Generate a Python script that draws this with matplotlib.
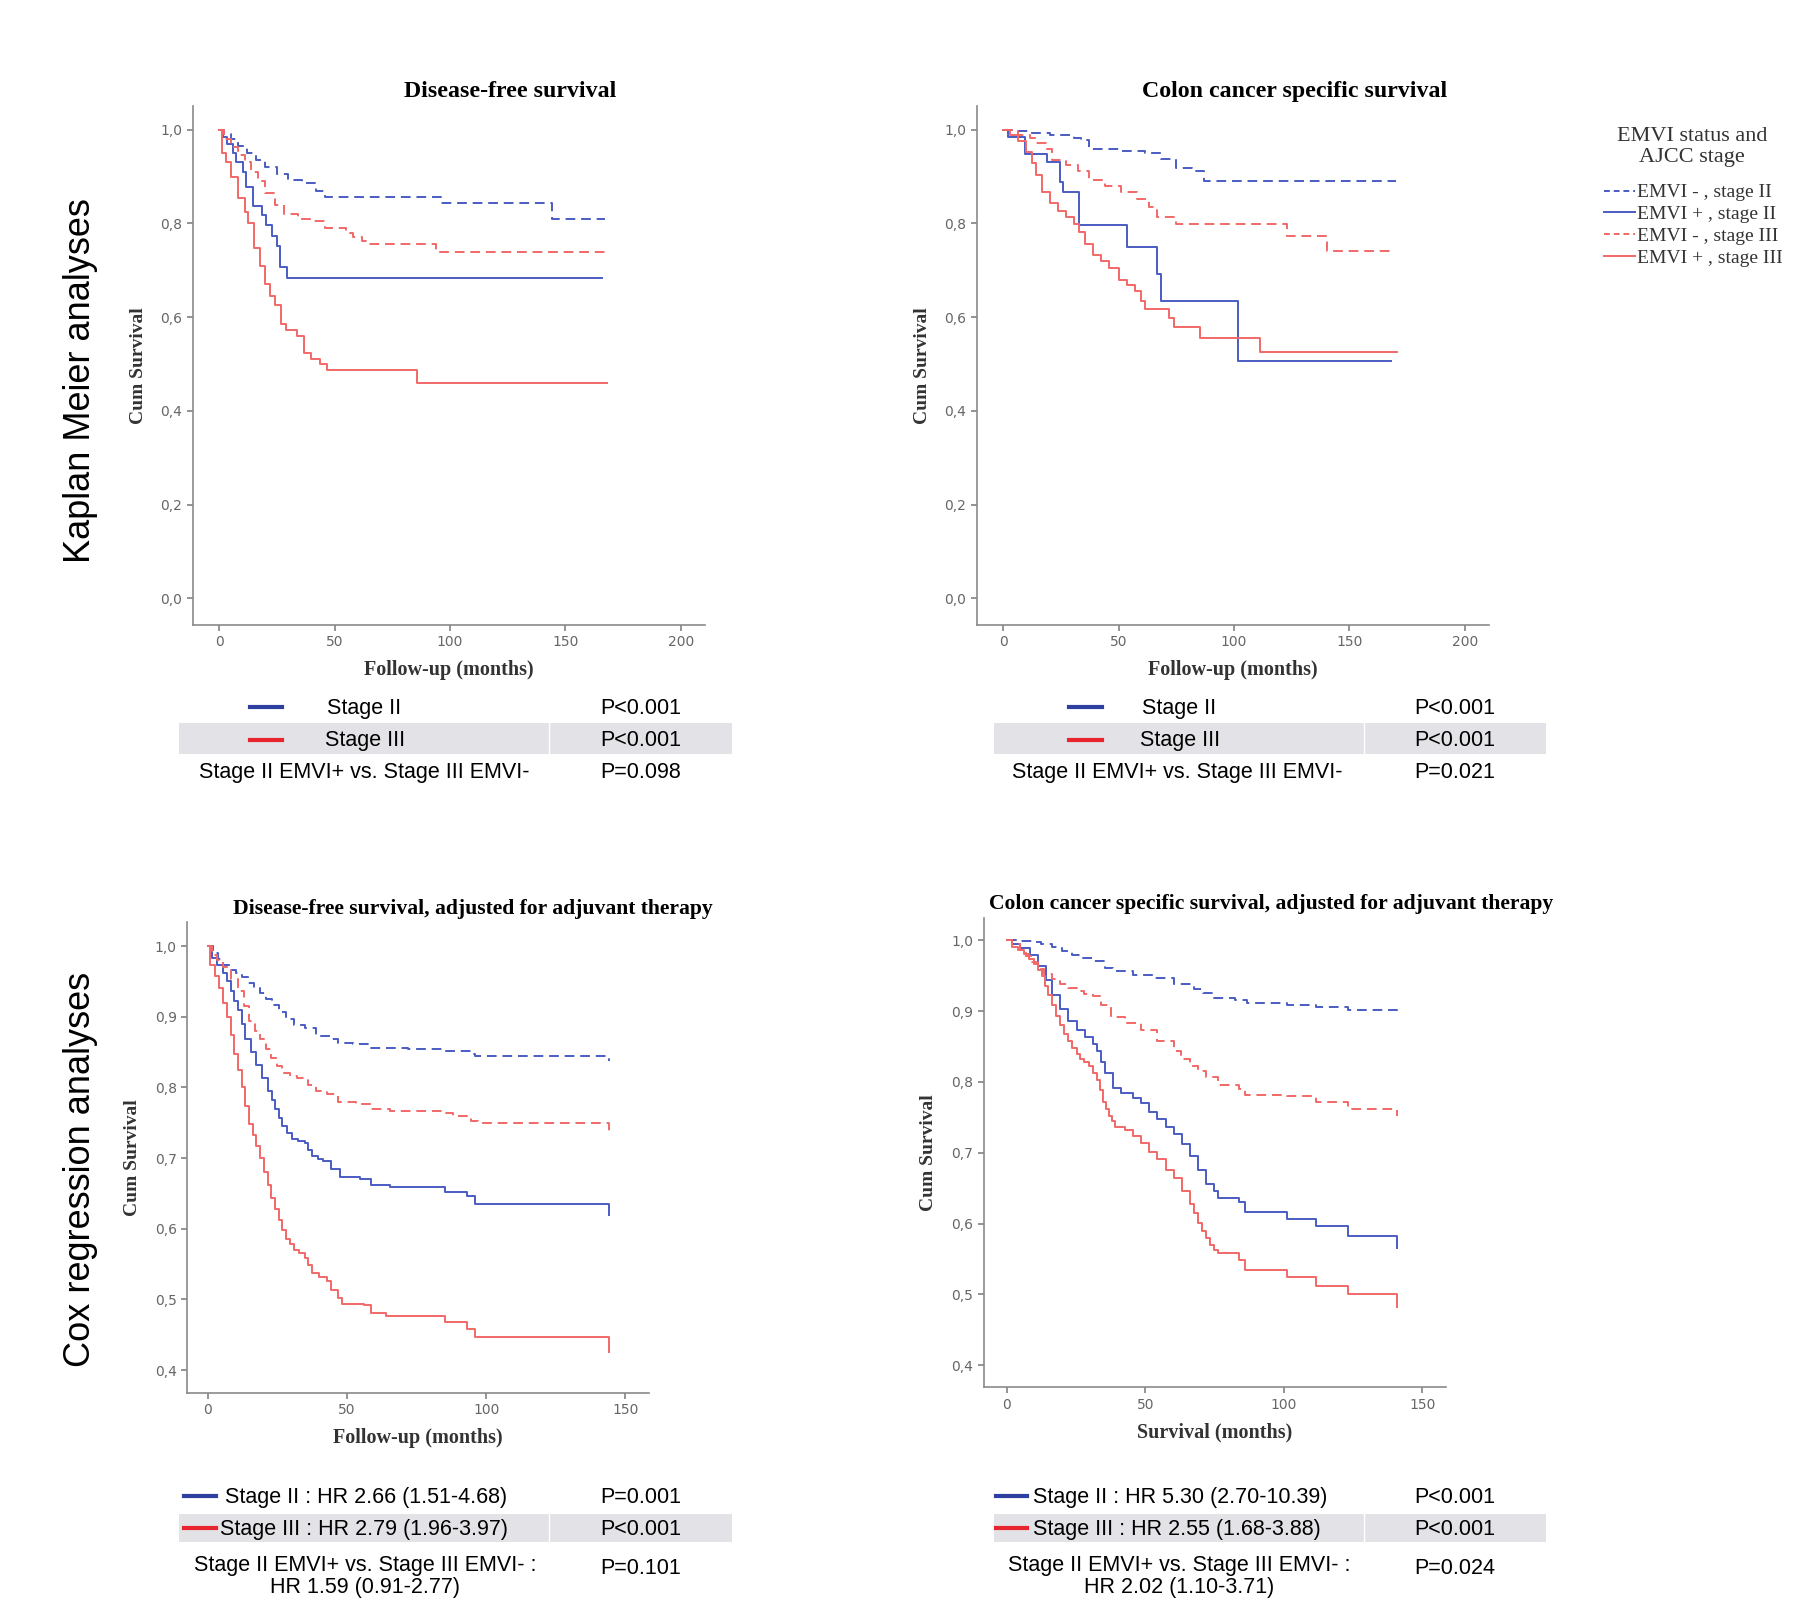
import matplotlib
matplotlib.use("Agg")
import matplotlib.pyplot as plt
from matplotlib.lines import Line2D
from matplotlib.patches import Rectangle

# ---- Kaplan Meier, disease-free survival ----
km_dfs_neg2_t = [0, 2, 5, 8, 12, 16, 20, 25, 30, 36, 42, 46, 96, 144, 167]
km_dfs_neg2_s = [1.0, 0.99, 0.98, 0.965, 0.95, 0.935, 0.92, 0.905, 0.893, 0.885, 0.87, 0.857, 0.844, 0.809, 0.809]
km_dfs_pos2_t = [0, 1.7, 3.5, 6.2, 7.4, 10.5, 11.7, 14.8, 18.5, 20.5, 22.9, 25.2, 26.4, 29.3, 166]
km_dfs_pos2_s = [1.0, 0.985, 0.969, 0.951, 0.931, 0.910, 0.878, 0.836, 0.817, 0.796, 0.774, 0.751, 0.707, 0.684, 0.684]
km_dfs_neg3_t = [0, 2, 5, 8, 11, 14, 17, 20, 24, 28, 34, 40, 46, 55, 58, 62, 65, 94, 168]
km_dfs_neg3_s = [1.0, 0.98, 0.962, 0.945, 0.93, 0.91, 0.89, 0.865, 0.84, 0.82, 0.81, 0.805, 0.79, 0.78, 0.77, 0.762, 0.756, 0.739, 0.739]
km_dfs_pos3_t = [0, 1.2, 2.8, 5.1, 8.2, 11.3, 12.5, 15.1, 17.5, 19.8, 22, 24.4, 26.7, 29, 33.7, 36.8, 39.8, 43.7, 46.8, 85.6, 168]
km_dfs_pos3_s = [1.0, 0.951, 0.931, 0.898, 0.853, 0.825, 0.80, 0.748, 0.71, 0.67, 0.645, 0.625, 0.585, 0.572, 0.56, 0.524, 0.511, 0.50, 0.487, 0.46, 0.46]

# ---- Kaplan Meier, colon cancer specific survival ----
km_css_neg2_t = [0, 4.8, 10.8, 20.2, 30.5, 33.9, 37.3, 51, 61.3, 68.2, 75, 81.8, 87, 170]
km_css_neg2_s = [1.0, 0.998, 0.993, 0.989, 0.981, 0.977, 0.959, 0.954, 0.949, 0.938, 0.919, 0.912, 0.891, 0.891]
km_css_pos2_t = [0, 2, 9.6, 18.8, 24.5, 25.7, 33, 53.8, 66.8, 68.2, 101.5, 168]
km_css_pos2_s = [1.0, 0.985, 0.948, 0.930, 0.888, 0.867, 0.796, 0.749, 0.692, 0.635, 0.507, 0.507]
km_css_neg3_t = [0, 6.5, 11.6, 14.2, 18.5, 21, 27, 32.2, 37.3, 44, 51, 57.9, 63, 66.4, 75, 123, 140.4, 169]
km_css_neg3_s = [1.0, 0.989, 0.981, 0.971, 0.959, 0.936, 0.924, 0.912, 0.892, 0.879, 0.867, 0.851, 0.835, 0.814, 0.798, 0.774, 0.741, 0.741]
km_css_pos3_t = [0, 3.1, 6.5, 9.9, 12.5, 14.2, 16.8, 20.2, 23.6, 27, 30.5, 33, 35.6, 39, 42.5, 45.9, 50.2,
                 53.6, 57, 59.6, 61.3, 71.6, 74.1, 85.3, 111.3, 170.5]
km_css_pos3_s = [1.0, 0.989, 0.976, 0.953, 0.928, 0.904, 0.867, 0.843, 0.827, 0.814, 0.798, 0.782, 0.756, 0.733,
                 0.719, 0.704, 0.68, 0.668, 0.656, 0.635, 0.617, 0.599, 0.578, 0.555, 0.525, 0.525]

# ---- Cox regression, disease-free survival ----
cox_dfs_neg2_t = [0, 2, 3.8, 5.6, 8, 10, 12.2, 14.5, 16.7, 18.8, 21, 23.2, 25.5, 28, 30.8, 34.8, 38.8,
                  44.1, 46.7, 52, 58.7, 71.9, 85.2, 94.5, 95.8, 144]
cox_dfs_neg2_s = [1.0, 0.99, 0.982, 0.973, 0.966, 0.962, 0.956, 0.948, 0.941, 0.934, 0.925, 0.916, 0.907,
                  0.897, 0.889, 0.884, 0.873, 0.868, 0.863, 0.861, 0.856, 0.855, 0.852, 0.847, 0.844, 0.837]
cox_dfs_pos2_t = [0, 1.6, 3.5, 5.6, 7, 8.2, 9.5, 10.9, 12.2, 13.5, 15.5, 17.5, 19.5, 21.5, 23, 24.2, 25.5,
                  26.8, 28.5, 30.1, 32.5, 34.8, 36, 37.4, 39.5, 41.4, 44.1, 47.4, 54.7, 58.7, 65.3, 85.2,
                  93.2, 95.8, 144]
cox_dfs_pos2_s = [1.0, 0.983, 0.973, 0.962, 0.95, 0.936, 0.923, 0.910, 0.89, 0.868, 0.85, 0.832, 0.813,
                  0.795, 0.782, 0.769, 0.757, 0.745, 0.735, 0.727, 0.724, 0.721, 0.712, 0.703, 0.699, 0.696,
                  0.685, 0.673, 0.670, 0.662, 0.659, 0.652, 0.646, 0.635, 0.620]
cox_dfs_neg3_t = [0, 1.6, 3.5, 5.6, 8.2, 10.9, 13, 14.9, 16.8, 18.8, 20.8, 22.8, 24.8, 26.8, 29.5, 32.1,
                  36.1, 38.8, 42.7, 46.7, 53.4, 58.7, 65.3, 85.2, 87.9, 94.5, 97.2, 144]
cox_dfs_neg3_s = [1.0, 0.988, 0.98, 0.970, 0.953, 0.936, 0.915, 0.894, 0.88, 0.868, 0.855, 0.842, 0.831,
                  0.821, 0.816, 0.813, 0.803, 0.795, 0.790, 0.779, 0.777, 0.770, 0.766, 0.764, 0.759, 0.753,
                  0.750, 0.737]
cox_dfs_pos3_t = [0, 0.9, 2.5, 4.2, 5.5, 6.9, 8.2, 9.6, 11, 12.2, 13.5, 14.9, 16.2, 17.5, 18.8, 20.2, 21.5,
                  22.8, 24.2, 25.5, 26.8, 28.1, 29.5, 30.8, 32.8, 34.8, 36, 37.4, 40.1, 42.7, 44.1, 46.7,
                  48.1, 56, 58.7, 64, 85.2, 93.2, 95.8, 144]
cox_dfs_pos3_s = [1.0, 0.973, 0.958, 0.941, 0.92, 0.90, 0.874, 0.848, 0.824, 0.80, 0.774, 0.748, 0.733,
                  0.717, 0.70, 0.68, 0.662, 0.643, 0.628, 0.612, 0.598, 0.586, 0.578, 0.570, 0.565, 0.559,
                  0.548, 0.538, 0.531, 0.526, 0.513, 0.502, 0.494, 0.492, 0.481, 0.476, 0.468, 0.458,
                  0.447, 0.426]

# ---- Cox regression, colon cancer specific survival ----
cox_css_neg2_t = [0, 4, 9.1, 12.5, 16.4, 20, 23.7, 27.5, 31, 35.4, 38.3, 45.7, 53, 60.3, 67.6, 71, 74.9,
                  82.2, 86.6, 101.3, 111.5, 123.2, 141]
cox_css_neg2_s = [1.0, 0.999, 0.998, 0.995, 0.991, 0.985, 0.979, 0.975, 0.970, 0.961, 0.956, 0.951, 0.946,
                  0.938, 0.931, 0.925, 0.918, 0.916, 0.911, 0.908, 0.906, 0.901, 0.899]
cox_css_pos2_t = [0, 1.8, 4.7, 8.3, 11.3, 14.2, 16.4, 19.3, 22.2, 25.2, 28.1, 31, 32.5, 34, 35.4, 38.3,
                  41.3, 45.7, 48.6, 51.5, 54.4, 57.4, 60.3, 63.2, 66.1, 69.1, 72, 74.9, 76.4, 83.7, 85.9,
                  101.3, 111.5, 123.2, 140.8]
cox_css_pos2_s = [1.0, 0.994, 0.989, 0.979, 0.964, 0.944, 0.923, 0.903, 0.886, 0.873, 0.863, 0.853, 0.843,
                  0.828, 0.812, 0.792, 0.785, 0.777, 0.770, 0.757, 0.747, 0.737, 0.727, 0.712, 0.696, 0.676,
                  0.656, 0.646, 0.636, 0.631, 0.616, 0.606, 0.596, 0.583, 0.565]
cox_css_neg3_t = [0, 2, 4.7, 7, 9.1, 11.3, 13.5, 16.4, 19.3, 22, 25.2, 28, 31, 34, 37.6, 42.7, 48.6, 54.4,
                  60.3, 63, 66.1, 69, 72, 76.4, 83.7, 85.9, 101.3, 111.5, 123.2, 141]
cox_css_neg3_s = [1.0, 0.995, 0.986, 0.978, 0.969, 0.96, 0.953, 0.945, 0.938, 0.933, 0.928, 0.924, 0.921,
                  0.908, 0.891, 0.883, 0.873, 0.858, 0.843, 0.833, 0.823, 0.815, 0.807, 0.795, 0.790, 0.782,
                  0.780, 0.772, 0.762, 0.752]
cox_css_pos3_t = [0, 1.8, 4, 6.1, 8, 9.8, 11.3, 12.7, 13.8, 14.9, 16.4, 17.9, 19.3, 20.8, 22.2, 23.7, 25.2,
                  26.6, 28, 29.6, 31, 32.5, 33.6, 34.7, 35.8, 36.9, 38, 39.1, 42.7, 45.7, 48.6, 51.5, 54.4,
                  57.4, 60.3, 63.2, 66.1, 67.6, 69.1, 70.5, 72, 73.5, 74.9, 76.4, 83.7, 85.9, 101.3, 111.5,
                  123.2, 141]
cox_css_pos3_s = [1.0, 0.991, 0.986, 0.981, 0.974, 0.966, 0.958, 0.949, 0.936, 0.923, 0.908, 0.893, 0.88,
                  0.868, 0.858, 0.848, 0.84, 0.833, 0.828, 0.823, 0.813, 0.803, 0.788, 0.772, 0.762, 0.752,
                  0.745, 0.737, 0.732, 0.724, 0.714, 0.701, 0.691, 0.676, 0.664, 0.646, 0.628, 0.615, 0.601,
                  0.59, 0.58, 0.57, 0.563, 0.558, 0.548, 0.535, 0.525, 0.512, 0.500, 0.482]

legend_title = "EMVI status and\nAJCC stage"
legend_labels = ["EMVI - , stage II", "EMVI + , stage II", "EMVI - , stage III", "EMVI + , stage III"]

km_rows = ["Stage II", "Stage III", "Stage II EMVI+ vs. Stage III EMVI-"]
km_dfs_p = ["P<0.001", "P<0.001", "P=0.098"]
km_css_p = ["P<0.001", "P<0.001", "P=0.021"]
cox_dfs_rows = ["Stage II : HR 2.66 (1.51-4.68)", "Stage III : HR 2.79 (1.96-3.97)",
                "Stage II EMVI+ vs. Stage III EMVI- :\nHR 1.59 (0.91-2.77)"]
cox_dfs_p = ["P=0.001", "P<0.001", "P=0.101"]
cox_css_rows = ["Stage II : HR 5.30 (2.70-10.39)", "Stage III : HR 2.55 (1.68-3.88)",
                "Stage II EMVI+ vs. Stage III EMVI- :\nHR 2.02 (1.10-3.71)"]
cox_css_p = ["P<0.001", "P<0.001", "P=0.024"]

BLUE = "#4a5cc2"
RED = "#f26868"
SERIF = "Liberation Serif"
SANS = "Liberation Sans"
W, H = 1568.0, 1402.0  # layout measured on the shrunk reference


def fx(x):
    return x / W


def fy(y):
    return 1 - y / H


def make_axes(fig, l, t, r, b, xlim, ylim, xticks, yticks, title, title_size, xlabel):
    ax = fig.add_axes([fx(l), fy(b), fx(r) - fx(l), fy(t) - fy(b)])
    ax.set_xlim(*xlim)
    ax.set_ylim(*ylim)
    for side in ("top", "right"):
        ax.spines[side].set_visible(False)
    for side in ("left", "bottom"):
        ax.spines[side].set_color("#8a8a8a")
        ax.spines[side].set_linewidth(1.2)
    ax.set_xticks(xticks)
    ax.set_yticks(yticks)
    ax.set_yticklabels([f"{v:.1f}".replace(".", ",") for v in yticks])
    ax.tick_params(colors="#777777", labelsize=10, length=4, width=1.1, labelcolor="#666666")
    ax.set_title(title, fontfamily=SERIF, fontweight="bold", fontsize=title_size, pad=6)
    ax.title.set_position((0.62, 1.0))
    ax.set_xlabel(xlabel, fontfamily=SERIF, fontweight="bold", fontsize=14.5, color="#333333", labelpad=8)
    ax.set_ylabel("Cum Survival", fontfamily=SERIF, fontweight="bold", fontsize=14, color="#333333", labelpad=10)
    return ax


def draw_curves(ax, curves):
    for t, s, color, ls in curves:
        ax.step(t, s, where="post", color=color, linestyle=ls, linewidth=1.4,
                dashes=(5, 3) if ls == "--" else (None, None))


def draw_table(fig, x0, x1, xsep, y_rows, band, marker_x, text_x, p_x, rows, pvals, center_last=None):
    fig.add_artist(Rectangle((fx(x0), fy(band[1])), fx(x1) - fx(x0), fy(band[0]) - fy(band[1]),
                             transform=fig.transFigure, facecolor="#e3e3e7", edgecolor="none", zorder=0))
    fig.add_artist(Line2D([fx(xsep), fx(xsep)], [fy(band[1]), fy(band[0])], transform=fig.transFigure,
                          color="white", linewidth=1))
    fs = 15.5
    for i, color in enumerate(["#2f3f9f", "#e8242c"]):
        fig.add_artist(Line2D([fx(marker_x[0]), fx(marker_x[1])], [fy(y_rows[i] - 1), fy(y_rows[i] - 1)],
                              transform=fig.transFigure, color=color, linewidth=3))
        fig.text(fx(text_x[i]), fy(y_rows[i]), rows[i], fontfamily=SANS, fontsize=fs, va="center", ha="left")
    if center_last is None:
        fig.text(fx(text_x[2]), fy(y_rows[2]), rows[2], fontfamily=SANS, fontsize=fs, va="center", ha="left")
    else:
        fig.text(fx(center_last), fy(y_rows[2] + 7), rows[2], fontfamily=SANS, fontsize=fs, va="center",
                 ha="center", multialignment="center", linespacing=1.05)
    for i in range(3):
        fig.text(fx(p_x), fy(y_rows[i]), pvals[i], fontfamily=SANS, fontsize=fs, va="center", ha="left")


fig = plt.figure(figsize=(18, 16.1), dpi=100)

km_yticks = [0.0, 0.2, 0.4, 0.6, 0.8, 1.0]
cox_yticks = [0.4, 0.5, 0.6, 0.7, 0.8, 0.9, 1.0]

ax1 = make_axes(fig, 168, 92, 614, 544, (-11.4, 210.4), (-0.056, 1.051), [0, 50, 100, 150, 200], km_yticks,
                "Disease-free survival", 17.2, "Follow-up (months)")
draw_curves(ax1, [(km_dfs_neg2_t, km_dfs_neg2_s, BLUE, "--"), (km_dfs_pos2_t, km_dfs_pos2_s, BLUE, "-"),
                  (km_dfs_neg3_t, km_dfs_neg3_s, RED, "--"), (km_dfs_pos3_t, km_dfs_pos3_s, RED, "-")])

ax2 = make_axes(fig, 851, 92, 1297, 544, (-11.4, 210.4), (-0.056, 1.051), [0, 50, 100, 150, 200], km_yticks,
                "Colon cancer specific survival", 17.2, "Follow-up (months)")
draw_curves(ax2, [(km_css_neg2_t, km_css_neg2_s, BLUE, "--"), (km_css_pos2_t, km_css_pos2_s, BLUE, "-"),
                  (km_css_neg3_t, km_css_neg3_s, RED, "--"), (km_css_pos3_t, km_css_pos3_s, RED, "-")])

ax3 = make_axes(fig, 163, 803, 565, 1213, (-7.4, 158.3), (0.3675, 1.034), [0, 50, 100, 150], cox_yticks,
                "Disease-free survival, adjusted for adjuvant therapy", 15.6, "Follow-up (months)")
draw_curves(ax3, [(cox_dfs_neg2_t, cox_dfs_neg2_s, BLUE, "--"), (cox_dfs_pos2_t, cox_dfs_pos2_s, BLUE, "-"),
                  (cox_dfs_neg3_t, cox_dfs_neg3_s, RED, "--"), (cox_dfs_pos3_t, cox_dfs_pos3_s, RED, "-")])

ax4 = make_axes(fig, 857, 799, 1260, 1208, (-8.3, 158.7), (0.369, 1.032), [0, 50, 100, 150], cox_yticks,
                "Colon cancer specific survival, adjusted for adjuvant therapy", 15.6, "Survival (months)")
draw_curves(ax4, [(cox_css_neg2_t, cox_css_neg2_s, BLUE, "--"), (cox_css_pos2_t, cox_css_pos2_s, BLUE, "-"),
                  (cox_css_neg3_t, cox_css_neg3_s, RED, "--"), (cox_css_pos3_t, cox_css_pos3_s, RED, "-")])

# row labels
fig.text(fx(70), fy(331), "Kaplan Meier analyses", rotation=90, fontfamily=SANS, fontsize=26,
         ha="center", va="center")
fig.text(fx(70), fy(1018), "Cox regression analyses", rotation=90, fontfamily=SANS, fontsize=26,
         ha="center", va="center")

# legend (title drawn separately so the gap above the entries matches)
fig.text(fx(1474), fy(128), legend_title, fontfamily=SERIF, fontsize=16, color="#333333",
         ha="center", va="center", multialignment="center", linespacing=1.2)
handles = [Line2D([], [], color=BLUE, linestyle="--", dashes=(3, 2), linewidth=1.4),
           Line2D([], [], color=BLUE, linestyle="-", linewidth=1.4),
           Line2D([], [], color=RED, linestyle="--", dashes=(3, 2), linewidth=1.4),
           Line2D([], [], color=RED, linestyle="-", linewidth=1.4)]
leg = fig.legend(handles, legend_labels, loc="upper left", bbox_to_anchor=(fx(1397), fy(160)),
                 frameon=False, handlelength=1.6, handletextpad=0.1, borderpad=0, borderaxespad=0,
                 labelspacing=0.22, prop={"family": SERIF, "size": 14})
for txt in leg.get_texts():
    txt.set_color("#333333")

# result tables
draw_table(fig, 156, 638, 478, [617, 645, 673], (630, 657), (218, 246), [285, 283, 173], 523,
           km_rows, km_dfs_p)
draw_table(fig, 866, 1347, 1188, [617, 645, 673], (630, 657), (931, 960), [995, 993, 882], 1232,
           km_rows, km_css_p)
draw_table(fig, 156, 638, 478, [1304, 1332, 1366], (1318, 1343), (160, 188), [196, 192, 0], 523,
           cox_dfs_rows, cox_dfs_p, center_last=318)
draw_table(fig, 866, 1347, 1188, [1304, 1332, 1366], (1318, 1343), (868, 895), [900, 900, 0], 1232,
           cox_css_rows, cox_css_p, center_last=1027)

fig.savefig("out.png", dpi=100, facecolor="white")
